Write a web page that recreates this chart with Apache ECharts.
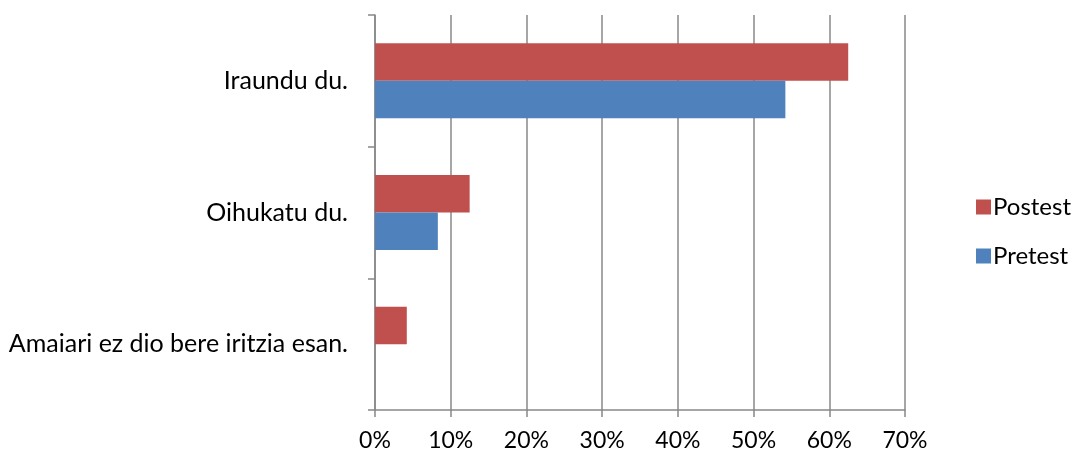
<!DOCTYPE html>
<html>
<head>
<meta charset="utf-8">
<script src="https://cdn.jsdelivr.net/npm/echarts@6/dist/echarts.min.js"></script>
<style>
  html, body { margin: 0; padding: 0; background: #fff; }
  #chart { width: 1075px; height: 458px; }
</style>
</head>
<body>
<div id="chart"></div>
<script>
// categories, top to bottom
var categories = ['Iraundu du.', 'Oihukatu du.', 'Amaiari ez dio bere iritzia esan.'];
var postest = [62.5, 12.5, 4.2];
var pretest = [54.2, 8.3, 0];
var xTicks = [0, 10, 20, 30, 40, 50, 60, 70];

var font = 'Lato, "Open Sans", sans-serif';
var myChart = echarts.init(document.getElementById('chart'));

myChart.setOption({
    animation: false,
    textStyle: { fontFamily: font },
    grid: { left: 375, right: 170, top: 15, bottom: 48 },
    legend: {
        orient: 'vertical',
        left: 971,
        top: 190,
        itemWidth: 15,
        itemHeight: 15,
        itemGap: 25,
        icon: 'rect',
        textStyle: { fontSize: 24, color: '#000', fontFamily: font, padding: [0, 0, 0, -3] },
        data: ['Postest', 'Pretest']
    },
    xAxis: {
        type: 'value',
        min: xTicks[0],
        max: xTicks[xTicks.length - 1],
        interval: 10,
        axisLine: { show: true, lineStyle: { color: '#888', width: 1.5 } },
        axisTick: { show: true, length: 7, lineStyle: { color: '#888', width: 1.5 } },
        axisLabel: { formatter: '{value}%', fontSize: 23, color: '#000', margin: 19, fontFamily: font },
        splitLine: { show: true, lineStyle: { color: '#888', width: 1.5 } }
    },
    yAxis: {
        type: 'category',
        inverse: true,
        data: categories,
        axisLine: { show: true, lineStyle: { color: '#888', width: 1.5 } },
        axisTick: { show: true, length: 7, alignWithLabel: false, lineStyle: { color: '#888', width: 1.5 } },
        axisLabel: { fontSize: 25, color: '#000', margin: 27, fontFamily: font }
    },
    series: [
        {
            name: 'Postest',
            type: 'bar',
            data: postest,
            barWidth: 37.5,
            barGap: '0%',
            itemStyle: { color: '#C0504D' }
        },
        {
            name: 'Pretest',
            type: 'bar',
            data: pretest,
            barWidth: 37.5,
            barGap: '0%',
            itemStyle: { color: '#4F81BD' }
        }
    ]
});
</script>
</body>
</html>
